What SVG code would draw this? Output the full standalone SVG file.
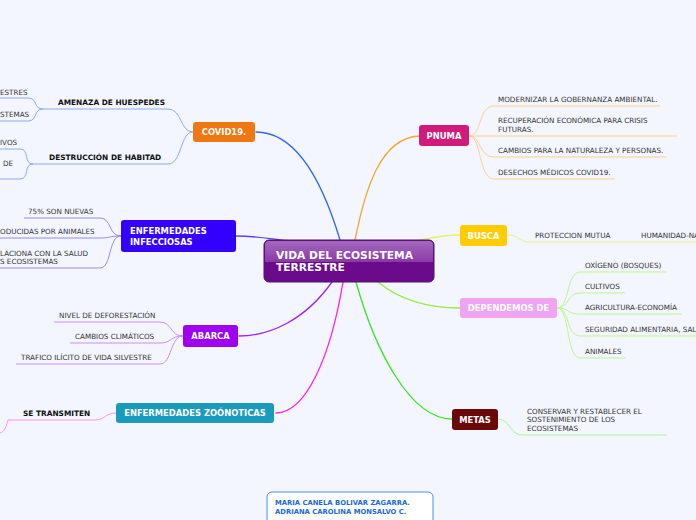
<svg xmlns="http://www.w3.org/2000/svg" width="696" height="520" viewBox="0 0 696 520">
<defs>
<linearGradient id="topg" x1="0" y1="0" x2="0" y2="1">
<stop offset="0" stop-color="#a468bf"/>
<stop offset="1" stop-color="#8a3aa6"/>
</linearGradient>
</defs>
<style>
.t{font-family:"DejaVu Sans",Verdana,sans-serif;font-size:7.2px;fill:#333}
.b{font-family:"DejaVu Sans",Verdana,sans-serif;font-size:7.4px;font-weight:bold;fill:#111}
.n{font-family:"DejaVu Sans",Verdana,sans-serif;font-size:8.4px;font-weight:bold;fill:#fff}
.c{fill:none;stroke-width:1.3;stroke-linecap:round}
.s{fill:none;stroke-width:1}
</style>
<rect width="696" height="520" fill="#f3f6fe"/>
<g id="connectors">
<path class="c" stroke="#2f6af2" d="M256,132 C300,132 325,190 340,240"/>
<path class="c" stroke="#f5a530" d="M355,240 C365,190 380,138 419,136"/>
<path class="c" stroke="#5a40f0" d="M236,236 C260,236 275,240 292,241"/>
<path class="c" stroke="#e6f060" d="M415,241 C435,237 445,235 460,235"/>
<path class="c" stroke="#90ee40" d="M378,282 C400,300 430,308 460,308"/>
<path class="c" stroke="#33e822" d="M356,282 C375,350 410,419 452,419"/>
<path class="c" stroke="#ff22e0" d="M343,282 C330,360 305,413 276,413"/>
<path class="c" stroke="#a020f8" d="M332,282 C305,320 270,336 239,336"/>
<g stroke="#8aaaf5">
<path class="s" d="M193,132 C180,132 182,109 168,109 L43,109"/>
<path class="s" d="M193,132 C180,132 182,164 168,164 L33,164"/>
<path class="s" d="M43,109 C33,109 38,98 28,98 L0,98"/>
<path class="s" d="M43,109 C33,109 38,121 28,121 L0,121"/>
<path class="s" d="M33,164 C23,164 30,149 20,149 L0,149"/>
<path class="s" d="M33,164 C23,164 30,179 20,179 L0,179"/>
</g>
<g stroke="#9a88f0">
<path class="s" d="M121,236 C108,236 112,218 100,218 L24,218"/>
<path class="s" d="M121,236 C108,236 112,238 100,238 L0,238"/>
<path class="s" d="M121,236 C108,236 112,268 100,268 L0,268"/>
</g>
<g stroke="#cc8cf8">
<path class="s" d="M183,336 C170,336 172,322 160,322 L54,322"/>
<path class="s" d="M183,336 C170,336 172,343 160,343 L70,343"/>
<path class="s" d="M183,336 C170,336 172,364 160,364 L16,364"/>
</g>
<g stroke="#ff90f0">
<path class="s" d="M116,413 C105,413 105,420 95,420 L8,420 C6,428 4,432 0,433"/>
</g>
<g stroke="#ffcf90">
<path class="s" d="M469,136 C482,136 478,106 494,106 L660,106"/>
<path class="s" d="M469,136 L677,136"/>
<path class="s" d="M469,136 C482,136 478,157 494,157 L667,157"/>
<path class="s" d="M469,136 C482,136 478,179 494,179 L615,179"/>
</g>
<g stroke="#eef090">
<path class="s" d="M507,235 C520,235 518,242 530,242 L696,242"/>
</g>
<g stroke="#bff590">
<path class="s" d="M557,308 C570,308 566,272 580,272 L667,272"/>
<path class="s" d="M557,308 C570,308 566,293 580,293 L625,293"/>
<path class="s" d="M557,308 C570,308 566,314 580,314 L682,314"/>
<path class="s" d="M557,308 C570,308 566,336 580,336 L696,336"/>
<path class="s" d="M557,308 C570,308 566,358 580,358 L626,358"/>
</g>
<g stroke="#a8f598">
<path class="s" d="M498,419 C510,419 510,435 522,435 L667,435"/>
</g>
</g>
<g id="central">
<rect x="264" y="240" width="170" height="42" rx="5" fill="#6b0a8b" stroke="#4e1268"/>
<path d="M265,262 L265,245 Q265,241 269,241 L429,241 Q433,241 433,245 L433,262 Z" fill="url(#topg)"/>
<text x="276" y="259" font-family="DejaVu Sans,Verdana,sans-serif" font-size="10.7" font-weight="bold" fill="#fff">VIDA DEL ECOSISTEMA</text>
<text x="276" y="271" font-family="DejaVu Sans,Verdana,sans-serif" font-size="10.7" font-weight="bold" fill="#fff">TERRESTRE</text>
</g>
<g id="covid">
<rect x="193" y="122" width="62" height="20" rx="3" fill="#ee7711"/>
<text class="n" x="224" y="135" text-anchor="middle">COVID19.</text>
<text class="b" x="58" y="104.5">AMENAZA DE HUESPEDES</text>
<text class="b" x="49" y="159.5">DESTRUCCIÓN DE HABITAD</text>
<text class="t" x="0" y="94.5">ESTRES</text>
<text class="t" x="0" y="116.5">STEMAS</text>
<text class="t" x="0" y="144.5">IVOS</text>
<text class="t" x="3" y="165.5">DE</text>
</g>
<g id="infecciosas">
<rect x="121" y="220" width="115" height="32" rx="3" fill="#3300ff"/>
<text class="n" x="130" y="233.7">ENFERMEDADES</text>
<text class="n" x="130" y="244.7">INFECCIOSAS</text>
<text class="t" x="28" y="213.5">75% SON NUEVAS</text>
<text class="t" x="0" y="233.5">ODUCIDAS POR ANIMALES</text>
<text class="t" x="0" y="255.5">LACIONA CON LA SALUD</text>
<text class="t" x="0" y="264">S ECOSISTEMAS</text>
</g>
<g id="abarca">
<rect x="183" y="325" width="55" height="22" rx="3" fill="#a000f0"/>
<text class="n" x="210.5" y="339" text-anchor="middle">ABARCA</text>
<text class="t" x="59" y="317.5">NIVEL DE DEFORESTACIÓN</text>
<text class="t" x="75" y="338.5">CAMBIOS CLIMÁTICOS</text>
<text class="t" x="21" y="359.5">TRAFICO ILÍCITO DE VIDA SILVESTRE</text>
</g>
<g id="zoonoticas">
<rect x="116" y="403" width="158" height="20" rx="3" fill="#1b9bbb"/>
<text class="n" x="195" y="416" text-anchor="middle">ENFERMEDADES ZOÓNOTICAS</text>
<text class="b" x="23" y="415.5">SE TRANSMITEN</text>
</g>
<g id="pnuma">
<rect x="419" y="125" width="50" height="21" rx="3" fill="#d01b7b"/>
<text class="n" x="444" y="138.5" text-anchor="middle">PNUMA</text>
<text class="t" x="498" y="101.5">MODERNIZAR LA GOBERNANZA AMBIENTAL.</text>
<text class="t" x="498" y="123">RECUPERACIÓN ECONÓMICA PARA CRISIS</text>
<text class="t" x="498" y="131.5">FUTURAS.</text>
<text class="t" x="498" y="152.5">CAMBIOS PARA LA NATURALEZA Y PERSONAS.</text>
<text class="t" x="498" y="174.5">DESECHOS MÉDICOS COVID19.</text>
</g>
<g id="busca">
<rect x="460" y="225" width="47" height="21" rx="3" fill="#ffcc00"/>
<text class="n" x="483.5" y="238.5" text-anchor="middle">BUSCA</text>
<text class="t" x="535" y="237.5">PROTECCION MUTUA</text>
<text class="t" x="641" y="237.5">HUMANIDAD-NA</text>
</g>
<g id="dependemos">
<rect x="460" y="298" width="97" height="20" rx="3" fill="#f2a4f4"/>
<text class="n" x="508.5" y="311" text-anchor="middle">DEPENDEMOS DE</text>
<text class="t" x="585" y="267.5">OXÍGENO (BOSQUES)</text>
<text class="t" x="585" y="288.5">CULTIVOS</text>
<text class="t" x="585" y="309.5">AGRICULTURA-ECONOMÍA</text>
<text class="t" x="585" y="331.5">SEGURIDAD ALIMENTARIA, SAL</text>
<text class="t" x="585" y="353.5">ANIMALES</text>
</g>
<g id="metas">
<rect x="452" y="409" width="46" height="21" rx="3" fill="#6b0808"/>
<text class="n" x="475" y="422.5" text-anchor="middle">METAS</text>
<text class="t" x="527" y="413.5">CONSERVAR Y RESTABLECER EL</text>
<text class="t" x="527" y="422">SOSTENIMIENTO DE LOS</text>
<text class="t" x="527" y="430.5">ECOSISTEMAS</text>
</g>
<g id="autores">
<rect x="267" y="492" width="166" height="36" rx="5" fill="#ffffff" stroke="#4a8ef0"/>
<text x="275" y="505" font-family="DejaVu Sans,Verdana,sans-serif" font-size="6.8" font-weight="bold" fill="#1a6ad6">MARIA CANELA BOLIVAR ZAGARRA.</text>
<text x="275" y="513.5" font-family="DejaVu Sans,Verdana,sans-serif" font-size="6.8" font-weight="bold" fill="#1a6ad6">ADRIANA CAROLINA MONSALVO C.</text>
</g>
</svg>
